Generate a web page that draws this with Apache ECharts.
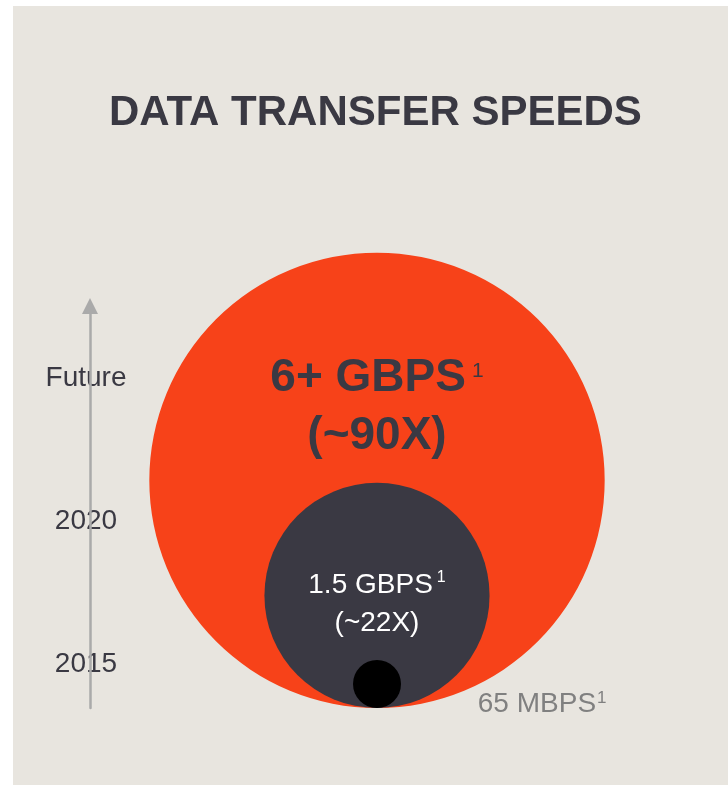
<!DOCTYPE html>
<html>
<head>
<meta charset="utf-8">
<script src="https://cdn.jsdelivr.net/npm/echarts@6/dist/echarts.min.js"></script>
<style>
  html, body { margin: 0; padding: 0; background: #ffffff; }
  #chart { width: 728px; height: 787px; }
</style>
</head>
<body>
<div id="chart"></div>
<script>
// ---- data ----
const years = ['2015', '2020', 'Future'];
const speedLabels = ['65 MBPS', '1.5 GBPS', '6+ GBPS'];
const multiplierLabels = ['', '(~22X)', '(~90X)'];
const relativeSpeed = [1, 22, 90];   // speed relative to 2015; circle area encodes it
const footnote = '1';
const title = 'DATA TRANSFER SPEEDS';

// ---- styles ----
const FONT = '"Liberation Sans", Arial, Helvetica, sans-serif';
const circleColors = ['#000000', '#3a3943', '#f74219'];
const darkText = '#3a3943';

const chart = echarts.init(document.getElementById('chart'), null, { renderer: 'canvas' });

const circleData = relativeSpeed.map((v, i) => [0, Math.sqrt(v), i]);
const timelineData = years.map((y, i) => [0, i]);

function labelFor(i, R) {
  if (i === 2) {
    return {
      type: 'text',
      z2: 50,
      style: {
        text: '{a|' + speedLabels[i] + '}{s|' + footnote + '}\n{a|' + multiplierLabels[i] + '}',
        align: 'center', verticalAlign: 'middle',
        rich: {
          a: { fontFamily: FONT, fontSize: 46, fontWeight: 'bold', fill: darkText, lineHeight: 58 },
          s: { fontFamily: FONT, fontSize: 21, fill: darkText, lineHeight: 40, verticalAlign: 'top', padding: [11, 0, 0, 6] }
        }
      },
      dx: 0, dy: -0.32 * R
    };
  } else if (i === 1) {
    return {
      type: 'text',
      z2: 50,
      style: {
        text: '{a|' + speedLabels[i] + '}{s|' + footnote + '}\n{a|' + multiplierLabels[i] + '}',
        align: 'center', verticalAlign: 'middle',
        rich: {
          a: { fontFamily: FONT, fontSize: 28, fill: '#ffffff', lineHeight: 38 },
          s: { fontFamily: FONT, fontSize: 16, fill: '#ffffff', lineHeight: 27, verticalAlign: 'top', padding: [4, 0, 0, 4] }
        }
      },
      dx: 0, dy: 0.075 * R
    };
  } else {
    return {
      type: 'text',
      z2: 50,
      style: {
        text: '{a|' + speedLabels[i] + '}{s|' + footnote + '}',
        align: 'left', verticalAlign: 'middle',
        rich: {
          a: { fontFamily: FONT, fontSize: 28, fill: '#808080', lineHeight: 28 },
          s: { fontFamily: FONT, fontSize: 17, fill: '#808080', lineHeight: 18, verticalAlign: 'top', padding: [0, 0, 0, 1] }
        }
      },
      dx: 4.2 * R, dy: 0.83 * R
    };
  }
}

const option = {
  backgroundColor: 'transparent',
  animation: false,
  graphic: [{
    type: 'rect', z: -10, silent: true,
    shape: { x: 13, y: 6, width: 715, height: 779 },
    style: { fill: '#e8e5df' }
  }],
  title: {
    text: title,
    left: 104,
    top: 87,
    textStyle: { fontFamily: FONT, fontSize: 42, fontWeight: 'bold', color: darkText, lineHeight: 42 }
  },
  grid: [
    { left: 137, right: 111, top: 228, bottom: 79 },
    { left: 86, right: 638, top: 306, bottom: 79 }
  ],
  xAxis: [
    { gridIndex: 0, type: 'value', min: -10, max: 10, show: false },
    { gridIndex: 1, type: 'value', min: 0, max: 1, show: false }
  ],
  yAxis: [
    { gridIndex: 0, type: 'value', min: 0, max: 20, show: false },
    {
      gridIndex: 1, type: 'value', min: -0.3077, max: 2.5035,
      position: 'right', z: 5,
      axisLine: {
        show: true, onZero: false,
        symbol: ['none', 'triangle'], symbolSize: [16, 16],
        lineStyle: { color: '#aaaaaa', width: 2.5 }
      },
      axisTick: { show: false },
      axisLabel: { show: false },
      splitLine: { show: false }
    }
  ],
  series: [
    {
      type: 'custom',
      xAxisIndex: 0, yAxisIndex: 0,
      data: circleData,
      renderItem: function (params, api) {
        const r = api.value(1);
        const i = api.value(2);
        const c = api.coord([api.value(0), r]);
        const R = api.size([r, 0])[0];
        const lab = labelFor(i, R);
        const dx = lab.dx, dy = lab.dy;
        delete lab.dx; delete lab.dy;
        lab.x = c[0] + dx;
        lab.y = c[1] + dy;
        return {
          type: 'group',
          children: [
            {
              type: 'circle',
              z2: 10 - i,
              shape: { cx: c[0], cy: c[1], r: R },
              style: { fill: circleColors[i] }
            },
            lab
          ]
        };
      }
    },
    {
      type: 'custom',
      xAxisIndex: 1, yAxisIndex: 1,
      z: 1,
      data: timelineData,
      renderItem: function (params, api) {
        const c = api.coord([api.value(0), api.value(1)]);
        return {
          type: 'text',
          x: c[0], y: c[1],
          style: {
            text: years[params.dataIndex],
            fontFamily: FONT, fontSize: 28, fill: darkText,
            align: 'center', verticalAlign: 'middle'
          }
        };
      }
    }
  ]
};

chart.setOption(option);
</script>
</body>
</html>
